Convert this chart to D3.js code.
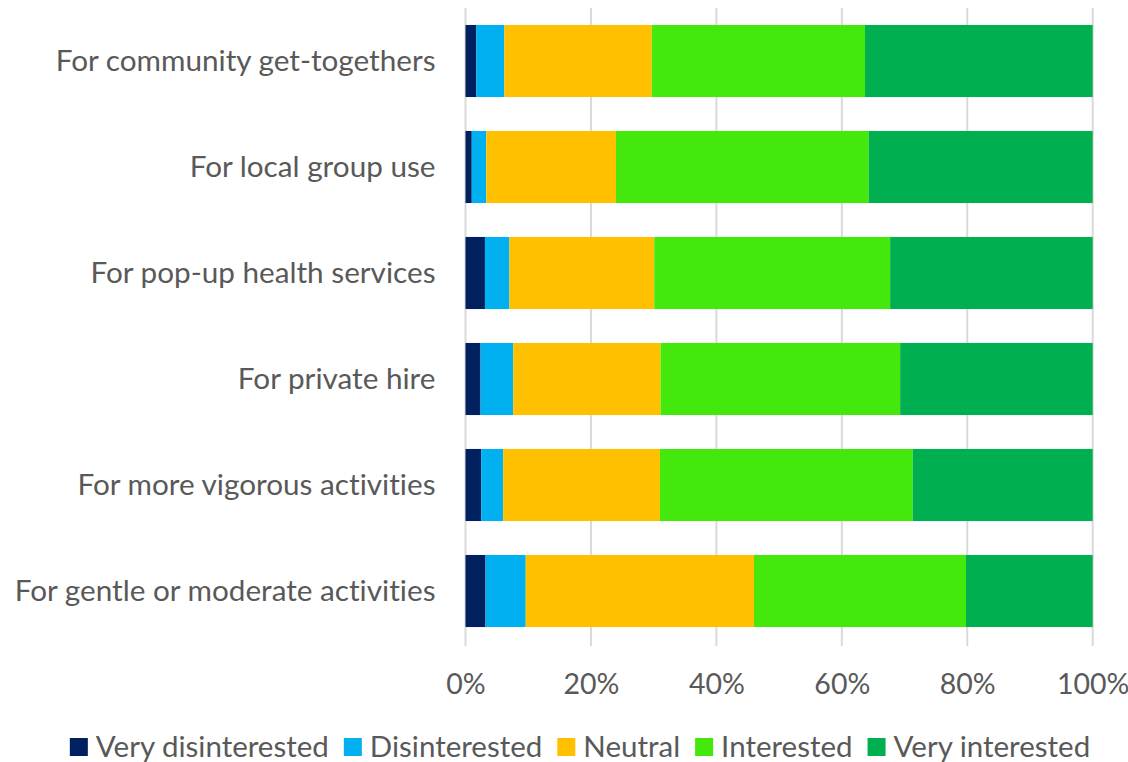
<!DOCTYPE html>
<html>
<head>
<meta charset="utf-8">
<script src="https://cdn.jsdelivr.net/npm/d3@7"></script>
<style>
  html, body { margin: 0; padding: 0; background: #fff; }
  svg { display: block; }
  text { font-family: Lato, "Noto Sans", sans-serif; fill: #595959; font-variant-ligatures: none; }
</style>
</head>
<body>
<svg id="chart" width="1128" height="762"></svg>
<script>
const categories = [
  "For community get-togethers",
  "For local group use",
  "For pop-up health services",
  "For private hire",
  "For more vigorous activities",
  "For gentle or moderate activities"
];
const seriesNames = ["Very disinterested", "Disinterested", "Neutral", "Interested", "Very interested"];
const veryDisinterested = [1.7, 1.0, 3.1, 2.4, 2.5, 3.2];
const disinterested     = [4.5, 2.3, 3.9, 5.2, 3.5, 6.4];
const neutral           = [23.5, 20.7, 23.1, 23.5, 25.0, 36.4];
const interested        = [34.0, 40.3, 37.6, 38.2, 40.3, 33.8];
const veryInterested    = [36.3, 35.7, 32.3, 30.7, 28.7, 20.2];
const tickValues = [0, 0.2, 0.4, 0.6, 0.8, 1.0];
const colors = ["#002060", "#00B0F0", "#FFC000", "#44E80C", "#00B050"];

const seriesValues = [veryDisinterested, disinterested, neutral, interested, veryInterested];
const rows = categories.map((c, i) => {
  const r = { category: c };
  seriesNames.forEach((s, j) => r[s] = seriesValues[j][i] / 100);
  return r;
});

const svg = d3.select("#chart");
const margin = { left: 465.5, right: 35.3, top: 8, bottom: 118 };
const W = 1128, H = 762;

const x = d3.scaleLinear().domain([0, 1]).range([margin.left, W - margin.right]);
const y = d3.scaleBand().domain(categories).range([margin.top, H - margin.bottom]).paddingInner(0.32).paddingOuter(0.16);

// gridlines
svg.append("g").selectAll("line").data(tickValues).join("line")
  .attr("x1", d => x(d)).attr("x2", d => x(d))
  .attr("y1", margin.top).attr("y2", H - margin.bottom + 2)
  .attr("stroke", "#D9D9D9").attr("stroke-width", 2);

const stack = d3.stack().keys(seriesNames);
const stacked = stack(rows);

svg.append("g").selectAll("g").data(stacked).join("g")
  .attr("fill", (d, i) => colors[i])
  .selectAll("rect").data(d => d).join("rect")
  .attr("x", d => x(d[0]))
  .attr("width", d => x(d[1]) - x(d[0]))
  .attr("y", d => y(d.data.category))
  .attr("height", y.bandwidth());

// x axis
const xAxis = d3.axisBottom(x).tickValues(tickValues).tickFormat(d3.format(".0%")).tickSize(0).tickPadding(0);
const gx = svg.append("g").attr("transform", `translate(0,${H - margin.bottom})`).call(xAxis);
gx.select(".domain").remove();
gx.selectAll("text").attr("font-size", 28.5).attr("dy", "1.05em").attr("y", 20).attr("fill", "#595959")
  .style("font-family", "Lato, sans-serif");

// y axis
const yAxis = d3.axisLeft(y).tickSize(0).tickPadding(0);
const gy = svg.append("g").attr("transform", `translate(${margin.left - 30},0)`).call(yAxis);
gy.select(".domain").remove();
gy.selectAll("text").attr("font-size", 29.7).attr("fill", "#595959").style("font-family", "Lato, sans-serif");

// legend
const legend = svg.append("g");
const items = legend.selectAll("g").data(seriesNames).join("g");
items.append("rect").attr("width", 18).attr("height", 18).attr("y", -19).attr("fill", (d, i) => colors[i]);
items.append("text").attr("x", 26).attr("font-size", 29.5).text(d => d);
const widths = [];
items.each(function(d) {
  const w = 26 + this.querySelector("text").getComputedTextLength();
  widths.push(w);
});
const gap = 15;
const total = d3.sum(widths) + gap * (widths.length - 1);
let start = 580 - total / 2;
items.attr("transform", (d, i) => {
  const t = `translate(${start},${757})`;
  start += widths[i] + gap;
  return t;
});
</script>
</body>
</html>
